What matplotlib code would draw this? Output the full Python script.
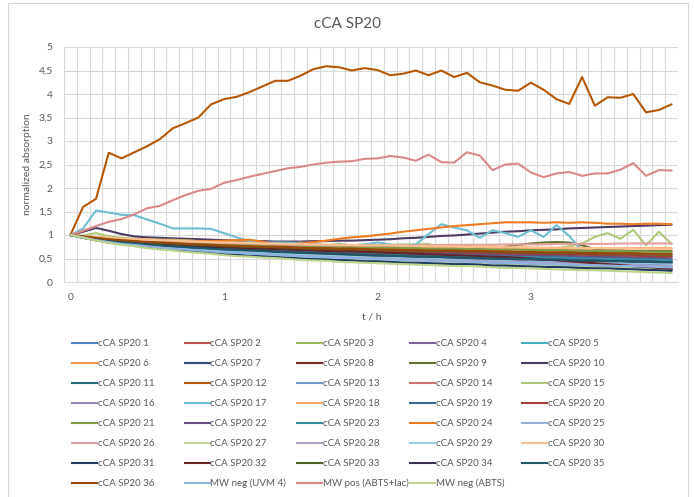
import numpy as np
import matplotlib
matplotlib.use("Agg")
import matplotlib.pyplot as plt
from matplotlib.lines import Line2D
from matplotlib.patches import Rectangle

plt.rcParams['font.family'] = ['Lato', 'DejaVu Sans']

# ---------------- data ----------------
time_min = [0, 5, 10, 15, 20, 25, 30, 35, 40, 45, 50, 55,
            60, 65, 70, 75, 80, 85, 90, 95, 100, 105, 110, 115,
            120, 125, 130, 135, 140, 145, 150, 155, 160, 165, 170, 175,
            180, 185, 190, 195, 200, 205, 210, 215, 220, 225, 230, 235]

s1 = [1.00,.95,.90,.86,.83,.81,.78,.75,.73,.71,.69,.68,
      .65,.63,.62,.61,.59,.58,.57,.55,.55,.54,.53,.52,
      .51,.50,.49,.48,.48,.47,.46,.46,.45,.44,.43,.42,
      .42,.41,.41,.40,.39,.39,.38,.37,.37,.36,.35,.34]
s2 = [1.00,.96,.93,.91,.88,.87,.85,.83,.82,.80,.79,.78,
      .76,.75,.74,.73,.73,.72,.71,.70,.69,.69,.68,.67,
      .67,.66,.65,.65,.64,.64,.64,.63,.63,.62,.61,.61,
      .60,.60,.60,.59,.59,.58,.58,.57,.57,.56,.55,.55]
s3 = [1.00,.95,.90,.86,.82,.79,.77,.74,.71,.69,.67,.65,
      .63,.61,.60,.59,.57,.56,.54,.53,.52,.51,.50,.48,
      .48,.47,.46,.45,.44,.43,.43,.42,.41,.40,.39,.38,
      .38,.37,.36,.35,.35,.34,.33,.33,.32,.31,.30,.29]
s4 = [1.00,.94,.89,.85,.81,.78,.76,.73,.70,.68,.66,.64,
      .62,.60,.59,.58,.56,.55,.53,.52,.51,.50,.49,.47,
      .47,.46,.45,.44,.43,.42,.42,.41,.40,.39,.38,.37,
      .37,.36,.35,.34,.34,.33,.32,.32,.31,.30,.29,.28]
s5 = [1.00,.96,.91,.88,.85,.83,.80,.78,.76,.75,.73,.72,
      .70,.69,.68,.67,.65,.64,.63,.62,.62,.61,.60,.59,
      .58,.58,.57,.56,.56,.55,.54,.54,.53,.52,.52,.51,
      .51,.50,.50,.49,.48,.48,.47,.47,.46,.46,.45,.44]
s6 = [1.00,.97,.95,.93,.91,.90,.88,.87,.86,.85,.84,.83,
      .81,.81,.80,.79,.79,.78,.77,.77,.76,.76,.75,.74,
      .74,.74,.73,.73,.72,.72,.72,.71,.71,.70,.70,.70,
      .69,.69,.69,.68,.68,.67,.67,.67,.66,.66,.65,.65]
s7 = [1.00,.94,.89,.84,.81,.78,.75,.72,.69,.67,.65,.63,
      .60,.59,.57,.56,.54,.53,.51,.50,.49,.48,.47,.45,
      .45,.44,.42,.42,.41,.40,.39,.39,.38,.36,.36,.35,
      .34,.33,.33,.32,.31,.30,.30,.29,.28,.27,.26,.25]
s8 = [1.00,.96,.92,.88,.86,.84,.81,.79,.77,.76,.74,.73,
      .71,.70,.69,.68,.66,.65,.64,.63,.63,.62,.61,.60,
      .59,.59,.58,.57,.57,.56,.55,.55,.54,.53,.53,.52,
      .52,.51,.51,.50,.49,.49,.48,.48,.47,.47,.46,.45]
s9 = [1.00,.97,.95,.93,.92,.90,.89,.88,.87,.86,.85,.84,
      .83,.82,.81,.80,.79,.79,.78,.77,.77,.76,.75,.75,
      .74,.74,.73,.73,.72,.72,.71,.71,.71,.72,.75,.79,
      .82,.84,.85,.84,.78,.70,.67,.67,.66,.66,.66,.66]
s10 = [1.00,1.07,1.15,1.09,1.02,.97,.95,.94,.93,.92,.91,.90,
       .89,.88,.87,.87,.86,.86,.86,.87,.87,.88,.88,.89,
       .90,.91,.93,.94,.96,.98,.99,1.01,1.03,1.05,1.07,1.08,
       1.10,1.11,1.12,1.14,1.15,1.16,1.17,1.18,1.19,1.20,1.21,1.22]
s11 = [1.00,.96,.93,.90,.87,.85,.83,.81,.80,.78,.77,.75,
       .74,.73,.72,.71,.70,.69,.68,.67,.66,.65,.65,.64,
       .63,.63,.62,.61,.61,.60,.60,.59,.59,.58,.57,.57,
       .56,.56,.55,.55,.54,.54,.53,.53,.52,.52,.51,.50]
s12 = [1.00,1.60,1.77,2.75,2.63,2.76,2.89,3.04,3.27,3.38,3.50,3.78,
       3.89,3.94,4.04,4.16,4.28,4.28,4.39,4.53,4.59,4.57,4.50,4.55,
       4.51,4.40,4.43,4.50,4.40,4.50,4.36,4.45,4.25,4.18,4.09,4.07,
       4.24,4.09,3.89,3.79,4.36,3.75,3.93,3.92,4.00,3.61,3.66,3.78]
s13 = [1.00,.95,.90,.86,.83,.81,.78,.75,.73,.71,.69,.68,
       .66,.64,.63,.62,.60,.59,.58,.56,.56,.55,.54,.53,
       .52,.51,.50,.49,.49,.48,.47,.47,.46,.45,.44,.43,
       .43,.42,.42,.41,.40,.40,.39,.38,.38,.37,.36,.35]
s14 = [1.00,.97,.94,.92,.90,.88,.86,.85,.84,.82,.81,.80,
       .79,.78,.77,.76,.76,.75,.74,.73,.73,.72,.72,.71,
       .70,.70,.69,.69,.68,.68,.68,.67,.67,.66,.66,.65,
       .65,.64,.64,.64,.63,.63,.62,.62,.62,.61,.60,.60]
s15 = [1.00,.99,1.04,.97,.94,.92,.91,.90,.90,.89,.87,.82,
       .87,.83,.85,.80,.83,.80,.84,.80,.78,.82,.77,.80,
       .79,.79,.80,.80,.81,.73,.74,.76,.72,.70,.65,.72,
       .72,.61,.72,.76,.82,.96,1.04,.92,1.11,.78,1.07,.81]
s16 = [1.00,.95,.90,.86,.82,.80,.77,.74,.72,.70,.68,.66,
       .64,.63,.61,.60,.59,.57,.56,.54,.54,.52,.52,.50,
       .50,.49,.48,.47,.46,.46,.45,.44,.44,.42,.42,.41,
       .40,.39,.39,.38,.37,.37,.36,.35,.35,.34,.33,.32]
s17 = [1.00,1.14,1.52,1.48,1.43,1.42,1.33,1.24,1.14,1.14,1.14,1.13,
       1.04,.95,.87,.84,.84,.84,.83,.84,.75,.80,.77,.80,
       .84,.80,.76,.80,1.02,1.23,1.16,1.10,.94,1.10,1.04,.96,
       1.10,.96,1.21,.98,.66,.62,.60,.59,.58,.57,.56,.55]
s18 = [1.00,.97,.95,.93,.91,.90,.88,.87,.86,.85,.84,.83,
       .82,.81,.80,.79,.78,.78,.77,.76,.76,.75,.75,.74,
       .74,.73,.73,.73,.72,.72,.72,.72,.72,.72,.72,.72,
       .72,.72,.72,.72,.72,.72,.72,.72,.72,.72,.72,.72]
s19 = [1.00,.95,.91,.87,.84,.82,.80,.77,.75,.74,.72,.70,
       .68,.67,.66,.65,.63,.62,.61,.60,.59,.58,.57,.56,
       .56,.55,.54,.53,.53,.52,.51,.51,.50,.49,.48,.48,
       .47,.47,.46,.45,.45,.44,.44,.43,.42,.42,.41,.40]
s20 = [1.00,.96,.93,.91,.88,.87,.84,.82,.81,.79,.78,.77,
       .75,.74,.73,.72,.72,.71,.70,.69,.68,.68,.67,.66,
       .66,.65,.64,.64,.63,.63,.63,.62,.62,.61,.60,.60,
       .59,.59,.59,.58,.58,.57,.57,.56,.56,.55,.54,.54]
s21 = [1.00,.97,.95,.93,.90,.89,.87,.86,.85,.84,.83,.82,
       .80,.80,.79,.78,.78,.77,.76,.76,.75,.75,.74,.73,
       .73,.73,.72,.72,.71,.71,.71,.70,.70,.69,.69,.69,
       .68,.68,.68,.67,.67,.66,.66,.66,.65,.65,.64,.64]
s22 = [1.00,.96,.93,.89,.86,.84,.82,.80,.79,.77,.76,.74,
       .73,.72,.71,.70,.69,.68,.67,.66,.65,.64,.64,.63,
       .62,.62,.61,.60,.60,.59,.59,.58,.58,.57,.56,.56,
       .55,.55,.54,.54,.53,.53,.52,.52,.51,.51,.50,.49]
s23 = [1.00,.96,.93,.89,.87,.85,.82,.80,.78,.77,.75,.74,
       .72,.71,.70,.69,.67,.66,.65,.64,.64,.63,.62,.61,
       .60,.60,.59,.58,.58,.57,.56,.56,.55,.54,.54,.53,
       .53,.52,.52,.51,.50,.50,.49,.49,.48,.48,.47,.46]
s24 = [1.00,.97,.95,.93,.92,.91,.90,.89,.88,.88,.87,.87,
       .88,.89,.90,.86,.80,.80,.82,.85,.88,.92,.95,.97,
       1.00,1.03,1.07,1.10,1.13,1.16,1.19,1.21,1.23,1.25,1.27,1.27,
       1.27,1.26,1.27,1.26,1.27,1.26,1.24,1.24,1.23,1.24,1.24,1.23]
s25 = [1.00,.96,.92,.88,.85,.83,.81,.78,.76,.75,.73,.71,
       .69,.68,.67,.66,.64,.63,.62,.61,.60,.59,.58,.57,
       .57,.56,.55,.54,.54,.53,.52,.52,.51,.50,.49,.49,
       .48,.48,.47,.46,.46,.45,.45,.44,.43,.43,.42,.41]
s26 = [1.00,.97,.95,.93,.91,.90,.89,.88,.87,.86,.85,.84,
       .83,.82,.82,.81,.80,.80,.79,.79,.78,.78,.78,.78,
       .78,.78,.78,.78,.78,.79,.79,.79,.79,.79,.80,.80,
       .80,.80,.81,.81,.81,.81,.81,.82,.82,.82,.82,.82]
s27 = [1.00,.95,.90,.85,.82,.79,.76,.73,.70,.68,.66,.64,
       .61,.60,.58,.57,.55,.54,.52,.51,.50,.49,.48,.46,
       .46,.45,.43,.43,.42,.41,.40,.40,.39,.37,.37,.36,
       .35,.34,.34,.33,.32,.31,.31,.30,.29,.28,.27,.26]
s28 = [1.00,.96,.91,.87,.83,.81,.78,.75,.73,.71,.69,.67,
       .65,.64,.62,.61,.60,.58,.57,.55,.55,.53,.53,.51,
       .51,.50,.49,.48,.47,.47,.46,.45,.45,.43,.43,.42,
       .41,.40,.40,.39,.38,.38,.37,.36,.36,.35,.34,.33]
s29 = [1.00,.95,.91,.86,.83,.81,.79,.76,.74,.73,.71,.69,
       .67,.66,.65,.64,.62,.61,.60,.59,.58,.57,.56,.55,
       .55,.54,.53,.52,.52,.51,.50,.50,.49,.48,.47,.47,
       .46,.46,.45,.44,.44,.43,.43,.42,.41,.41,.40,.39]
s30 = [1.00,.98,.96,.94,.92,.91,.90,.89,.88,.87,.86,.85,
       .84,.84,.83,.82,.82,.81,.81,.80,.80,.79,.79,.78,
       .78,.78,.77,.77,.76,.76,.76,.75,.75,.75,.74,.74,
       .74,.73,.73,.73,.72,.72,.72,.72,.71,.71,.70,.70]
s31 = [1.00,.94,.89,.84,.81,.78,.75,.72,.68,.66,.64,.62,
       .59,.58,.56,.55,.53,.52,.50,.49,.48,.47,.46,.44,
       .44,.43,.41,.41,.40,.39,.38,.38,.37,.35,.35,.34,
       .33,.32,.32,.31,.30,.29,.29,.28,.27,.26,.25,.24]
s32 = [1.00,.96,.93,.90,.87,.85,.83,.81,.80,.78,.77,.75,
       .74,.73,.72,.71,.70,.69,.68,.67,.66,.65,.65,.64,
       .63,.62,.61,.60,.59,.58,.57,.56,.55,.54,.53,.52,
       .50,.48,.46,.44,.42,.40,.38,.36,.34,.32,.30,.28]
s33 = [1.00,.96,.93,.90,.88,.86,.84,.83,.82,.80,.79,.78,
       .77,.76,.75,.74,.74,.73,.72,.71,.71,.70,.70,.69,
       .68,.68,.67,.67,.66,.66,.66,.65,.65,.64,.64,.63,
       .63,.62,.62,.62,.61,.61,.60,.60,.60,.59,.58,.58]
s34 = [1.00,.95,.91,.87,.85,.83,.80,.78,.76,.75,.73,.72,
       .70,.69,.68,.67,.65,.64,.63,.62,.61,.60,.59,.58,
       .57,.56,.55,.54,.54,.53,.52,.51,.50,.50,.49,.48,
       .48,.47,.47,.46,.45,.45,.44,.44,.43,.43,.42,.42]
s35 = [1.00,.96,.92,.88,.85,.83,.80,.78,.76,.74,.72,.71,
       .69,.68,.67,.66,.64,.63,.62,.61,.60,.59,.58,.57,
       .56,.56,.55,.54,.54,.53,.52,.52,.51,.50,.50,.49,
       .49,.48,.48,.47,.46,.46,.45,.45,.44,.44,.43,.42]
s36 = [1.00,.97,.94,.91,.89,.87,.85,.84,.83,.81,.80,.79,
       .78,.77,.76,.75,.75,.74,.73,.72,.72,.71,.71,.70,
       .69,.69,.68,.68,.67,.67,.67,.66,.66,.65,.65,.64,
       .64,.63,.63,.63,.62,.62,.61,.61,.61,.60,.59,.59]
mw_neg_uvm4 = [1.00,.95,.89,.85,.81,.79,.76,.73,.71,.69,.67,.65,
               .63,.62,.60,.59,.58,.56,.55,.53,.53,.51,.51,.49,
               .49,.48,.47,.46,.45,.45,.44,.43,.43,.41,.41,.40,
               .39,.38,.38,.37,.36,.36,.35,.34,.34,.33,.32,.31]
mw_pos_abts_lac = [1.00,1.09,1.19,1.28,1.34,1.44,1.57,1.62,1.74,1.85,1.94,1.98,
                   2.11,2.17,2.24,2.30,2.36,2.42,2.45,2.50,2.54,2.56,2.57,2.62,
                   2.63,2.68,2.65,2.58,2.71,2.55,2.54,2.76,2.69,2.38,2.50,2.52,
                   2.33,2.23,2.31,2.34,2.26,2.31,2.31,2.39,2.53,2.26,2.38,2.37]
mw_neg_abts = [1.00,.94,.88,.83,.79,.76,.72,.69,.67,.64,.62,.60,
               .57,.55,.54,.52,.51,.49,.47,.46,.45,.43,.42,.41,
               .40,.39,.38,.37,.36,.35,.34,.34,.33,.31,.30,.30,
               .29,.28,.27,.26,.25,.25,.24,.23,.22,.21,.20,.19]

series_labels = [f"cCA SP20 {k}" for k in range(1, 37)] + \
    ["MW neg (UVM 4)", "MW pos (ABTS+lac)", "MW neg (ABTS)"]
series_values = [s1, s2, s3, s4, s5, s6, s7, s8, s9, s10, s11, s12,
                 s13, s14, s15, s16, s17, s18, s19, s20, s21, s22, s23, s24,
                 s25, s26, s27, s28, s29, s30, s31, s32, s33, s34, s35, s36,
                 mw_neg_uvm4, mw_pos_abts_lac, mw_neg_abts]
series_colors = ['#4F81BD', '#C0504D', '#9BBB59', '#8064A2', '#4BACC6', '#F79646',
                 '#2C4D75', '#772C2A', '#5F7530', '#4D3B62', '#276A7C', '#B65708',
                 '#729ACA', '#CD7371', '#AFC97A', '#9983B5', '#6FBDD1', '#F9AB6B',
                 '#3A679C', '#9F3E3A', '#7F9A48', '#6A5084', '#358EA6', '#EE7B22',
                 '#95B3D7', '#E0A09E', '#C3D69B', '#B3A2C7', '#93CDDD', '#FAC090',
                 '#1F3A5F', '#632523', '#4F6228', '#3F3151', '#205867', '#984807',
                 '#8DB3E2', '#D9898A', '#BCD48C']

y_ticks = [0, 0.5, 1, 1.5, 2, 2.5, 3, 3.5, 4, 4.5, 5]
y_ticklabels = ["0", "0,5", "1", "1,5", "2", "2,5", "3", "3,5", "4", "4,5", "5"]
x_ticks = [0, 1, 2, 3]
x_ticklabels = ["0", "1", "2", "3"]

# ---------------- figure ----------------
W, H = 694, 497
fig = plt.figure(figsize=(W / 100, H / 100), dpi=100)
fig.patch.set_facecolor('white')

# chart area border
fig.add_artist(Rectangle((8 / W, -0.02), 680 / W, 1 - 3 / H + 0.02,
                         transform=fig.transFigure, fill=False,
                         edgecolor='#D9D9D9', lw=0.8))

ax = fig.add_axes([64 / W, 1 - 282 / H, 614 / W, 235 / H])
t = np.array(time_min) / 60.0
step = 5 / 60.0
for vals, col in zip(series_values, series_colors):
    ax.plot(t[:len(vals)], vals, color=col, lw=1.5, solid_joinstyle='round',
            solid_capstyle='round')

ax.set_xlim(t[0] - step / 2, t[-1] + step / 2)
ax.set_ylim(0, 5)
ax.set_yticks(y_ticks)
ax.set_yticklabels(y_ticklabels)
ax.set_xticks(x_ticks)
ax.set_xticklabels(x_ticklabels)
ax.set_xticks(np.append(t - step / 2, t[-1] + step / 2), minor=True)
ax.grid(True, which='major', axis='y', color='#D9D9D9', lw=0.8)
ax.grid(True, which='minor', axis='x', color='#D9D9D9', lw=0.8)
ax.set_axisbelow(True)
for sp in ['top', 'right', 'left']:
    ax.spines[sp].set_visible(False)
ax.spines['bottom'].set_color('#D9D9D9')
ax.spines['bottom'].set_linewidth(0.8)
ax.tick_params(axis='both', which='both', length=0, labelsize=7.5,
               labelcolor='#595959')
ax.tick_params(axis='y', pad=8)
ax.tick_params(axis='x', pad=8)

ax.set_ylabel("normalized absorption", fontsize=7.5, color='#595959')
ax.yaxis.set_label_coords(-0.052, 0.5)
ax.set_xlabel("t / h", fontsize=7.5, color='#595959')
ax.xaxis.set_label_coords((372 - 64) / 614, (282 - 313) / 235)

fig.text(348 / W, 1 - 24 / H, "cCA SP20", ha='center', va='center',
         fontsize=11, color='#595959')

# legend (row-major, 5 columns)
for k, (lab, col) in enumerate(zip(series_labels, series_colors)):
    r, c = divmod(k, 5)
    x0 = 72 + c * 112.5
    yy = 343 + r * 20
    fig.add_artist(Line2D([x0 / W, (x0 + 25) / W], [1 - yy / H, 1 - yy / H],
                          transform=fig.transFigure, color=col, lw=1.5))
    fig.text((x0 + 26) / W, 1 - yy / H, lab, ha='left', va='center',
             fontsize=7.0, color='#595959')

fig.savefig("out.png", dpi=100, facecolor='white')
